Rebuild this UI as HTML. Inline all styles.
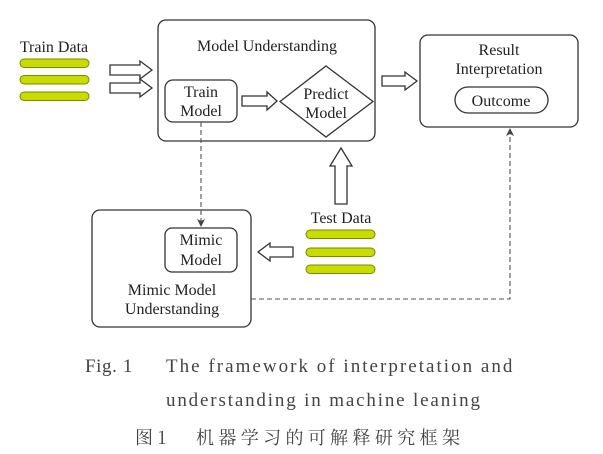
<!DOCTYPE html>
<html><head><meta charset="utf-8"><style>
html,body{margin:0;padding:0;background:#fff;}
svg{display:block;}
svg text{font-family:"Liberation Serif","Noto Serif CJK SC",serif;fill:#222;}
</style></head><body>
<svg width="603" height="454" viewBox="0 0 603 454" xmlns="http://www.w3.org/2000/svg">
<defs>
<marker id="ah" markerWidth="8" markerHeight="8" refX="7" refY="4" orient="auto" markerUnits="userSpaceOnUse"><path d="M0,0 L8,4 L0,8 L2,4 Z" fill="#444"/></marker>
</defs>
<g stroke="#333" stroke-width="1.3" fill="none">
<rect x="158" y="20" width="217" height="121" rx="8" fill="#fff"/>
<rect x="165" y="80" width="72" height="42" rx="8"/>
<polygon points="326,66 373,101.5 326,137 280,101.5" fill="#fff"/>
<rect x="420" y="35" width="158" height="92" rx="8"/>
<rect x="455" y="87" width="93" height="26" rx="13"/>
<rect x="92" y="210" width="159" height="117" rx="8"/>
<rect x="165" y="228" width="72" height="44" rx="7"/>
<polygon points="110,65 140,65 140,61 152,70 140,79 140,75 110,75"/>
<polygon points="110,83 140,83 140,79 152,88 140,97 140,93 110,93"/>
<polygon points="242,96 267,96 267,92 277,101 267,110 267,106 242,106"/>
<polygon points="382,76 405,76 405,72 417,81 405,90 405,86 382,86"/>
<polygon points="341,148 352,166 347,166 347,204 335,204 335,166 330,166"/>
<polygon points="293,247 270,247 270,243 258,252 270,261 270,257 293,257"/>
</g>
<g stroke="#555" stroke-width="1.1" fill="none" stroke-dasharray="5,3">
<line x1="201" y1="122" x2="201" y2="226" marker-end="url(#ah)"/>
<polyline points="251,299 510,299 510,129" marker-end="url(#ah)"/>
</g>
<g fill="#c8dc00" stroke="#7a8a00" stroke-width="1">
<rect x="20" y="59" width="69" height="8.5" rx="4.2"/>
<rect x="20" y="75.5" width="69" height="8.5" rx="4.2"/>
<rect x="20" y="92" width="69" height="8.5" rx="4.2"/>
<rect x="306" y="230" width="69" height="8.5" rx="4.2"/>
<rect x="306" y="248" width="69" height="8.5" rx="4.2"/>
<rect x="306" y="265" width="69" height="8.5" rx="4.2"/>
</g>
<g font-size="16" font-family="Liberation Serif, serif" fill="#222">
<text x="54" y="52" text-anchor="middle">Train Data</text>
<text x="267" y="51" text-anchor="middle">Model Understanding</text>
<text x="201" y="97" text-anchor="middle">Train</text>
<text x="201" y="116" text-anchor="middle">Model</text>
<text x="326" y="99" text-anchor="middle">Predict</text>
<text x="326" y="118" text-anchor="middle">Model</text>
<text x="499" y="55" text-anchor="middle">Result</text>
<text x="499" y="74" text-anchor="middle">Interpretation</text>
<text x="501" y="106" text-anchor="middle">Outcome</text>
<text x="341" y="223" text-anchor="middle">Test Data</text>
<text x="201" y="245" text-anchor="middle">Mimic</text>
<text x="201" y="265" text-anchor="middle">Model</text>
<text x="172" y="295" text-anchor="middle">Mimic Model</text>
<text x="172" y="314" text-anchor="middle">Understanding</text>
</g>
<g font-family="Liberation Serif, serif">
<text x="85" y="372" font-size="19" style="fill:#444;letter-spacing:0.6px">Fig. 1</text>
<text x="166" y="372" font-size="19" style="fill:#444;letter-spacing:0.6px" textLength="347">The framework of interpretation and</text>
<text x="166" y="406" font-size="19" style="fill:#444" textLength="314">understanding in machine leaning</text>
<text x="135" y="444" font-size="18" style="fill:#444;font-family:'Noto Serif CJK SC','Noto Sans CJK SC',serif">图 1</text>
<text x="196" y="444" font-size="18" style="fill:#444;font-family:'Noto Serif CJK SC','Noto Sans CJK SC',serif" textLength="264">机器学习的可解释研究框架</text>
</g>
</svg>
</body></html>
